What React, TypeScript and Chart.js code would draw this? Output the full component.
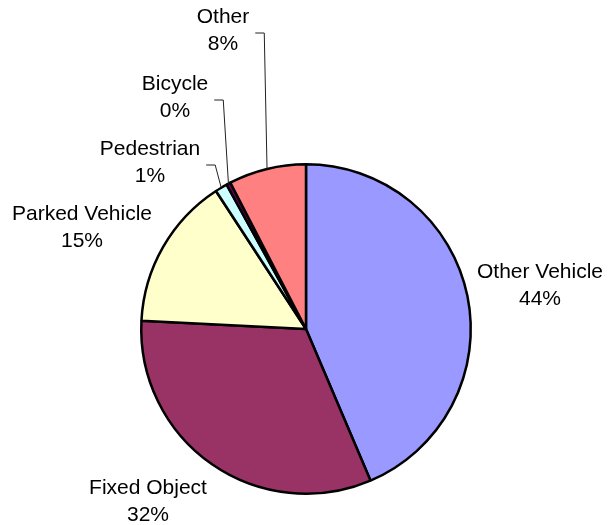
import React, { useEffect, useRef } from "react";
import { Chart, registerables } from "chart.js";

Chart.register(...registerables);

const categories = ["Other Vehicle", "Fixed Object", "Parked Vehicle", "Pedestrian", "Bicycle", "Other"];
const shares = [43.6, 32.2, 15.0, 1.2, 0.4, 7.6];
const sliceColors = ["#9999FF", "#993366", "#FFFFCC", "#CCFFFF", "#660066", "#FF8080"];

// label block centre offsets relative to pie centre (px) and whether a leader line is drawn
const labelOffsets: [number, number, boolean][] = [
  [234, -43, false],
  [-158, 173, false],
  [-224, -101, false],
  [-156, -166, true],
  [-131, -231, true],
  [-83, -298, true],
];

const FONT = "21px 'Liberation Sans', Arial, sans-serif";
const LINE_H = 27;

const labelPlugin = {
  id: "pieLabels",
  afterDatasetsDraw(chart: any) {
    const meta = chart.getDatasetMeta(0);
    const ctx = chart.ctx as CanvasRenderingContext2D;
    const data = chart.data.datasets[0].data as number[];
    const total = data.reduce((a, b) => a + b, 0);
    ctx.save();
    ctx.font = FONT;
    ctx.fillStyle = "#000";
    ctx.textAlign = "center";
    ctx.textBaseline = "middle";
    meta.data.forEach((arc: any, i: number) => {
      const { x, y, startAngle, endAngle, outerRadius } = arc.getProps(
        ["x", "y", "startAngle", "endAngle", "outerRadius"],
        true
      );
      const [dx, dy, leader] = labelOffsets[i];
      const cx = x + dx;
      const cy = y + dy;
      const l1 = String(chart.data.labels[i]);
      const l2 = Math.round((data[i] / total) * 100) + "%";
      ctx.fillText(l1, cx, cy - LINE_H / 2);
      ctx.fillText(l2, cx, cy + LINE_H / 2);
      if (leader) {
        const w = Math.max(ctx.measureText(l1).width, ctx.measureText(l2).width);
        const sx = cx + w / 2 + 6;
        const sy = cy + 2;
        const mid = (startAngle + endAngle) / 2;
        const ex = x + Math.cos(mid) * outerRadius;
        const ey = y + Math.sin(mid) * outerRadius;
        ctx.beginPath();
        ctx.strokeStyle = "#222";
        ctx.lineWidth = 1;
        ctx.moveTo(sx, sy);
        ctx.lineTo(sx + 9, sy);
        ctx.lineTo(ex, ey);
        ctx.stroke();
      }
    });
    ctx.restore();
  },
};

export default function App() {
  const ref = useRef<HTMLCanvasElement>(null);
  useEffect(() => {
    if (!ref.current) return;
    const chart = new Chart(ref.current, {
      type: "pie",
      data: {
        labels: categories,
        datasets: [
          {
            data: shares,
            backgroundColor: sliceColors,
            borderColor: "#000",
            borderWidth: 2.5,
          },
        ],
      },
      options: {
        responsive: true,
        maintainAspectRatio: false,
        animation: false,
        layout: { padding: { left: 140, right: 138, top: 163, bottom: 30 } },
        plugins: { legend: { display: false }, tooltip: { enabled: false } },
      },
      plugins: [labelPlugin],
    });
    return () => chart.destroy();
  }, []);
  return (
    <div style={{ position: "fixed", left: 0, top: 0, width: 610, height: 525, background: "#fff" }}>
      <canvas ref={ref} />
    </div>
  );
}
